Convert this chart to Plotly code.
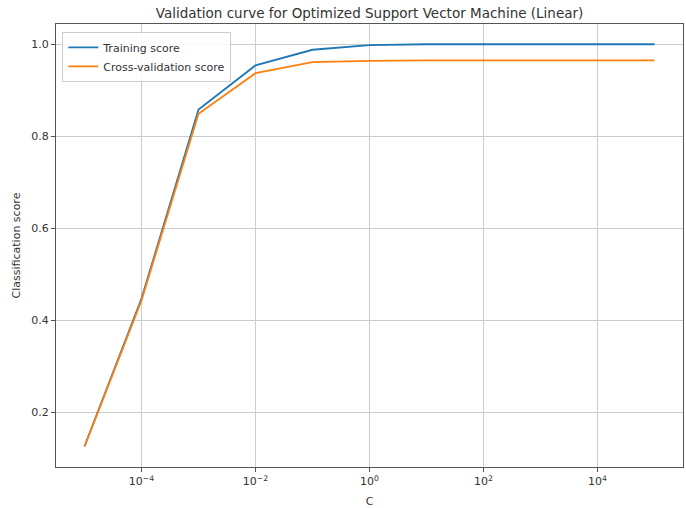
import plotly.graph_objects as go

# Regularisation strengths evaluated (log-spaced)
c_values = [1e-5, 1e-4, 1e-3, 1e-2, 1e-1, 1e0, 1e1, 1e2, 1e3, 1e4, 1e5]

# Mean scores per C
train_scores = [0.126, 0.447, 0.858, 0.954, 0.988, 0.998, 1.0, 1.0, 1.0, 1.0, 1.0]
cv_scores = [0.125, 0.443, 0.849, 0.937, 0.961, 0.964, 0.965, 0.965, 0.965, 0.965, 0.965]

x_tick_vals = [1e-4, 1e-2, 1e0, 1e2, 1e4]
x_tick_text = ["10<sup>−4</sup>", "10<sup>−2</sup>", "10<sup>0</sup>", "10<sup>2</sup>", "10<sup>4</sup>"]
y_tick_vals = [0.2, 0.4, 0.6, 0.8, 1.0]
y_tick_text = ["0.2", "0.4", "0.6", "0.8", "1.0"]

text_color = "#333333"
font_family = "DejaVu Sans"

fig = go.Figure()
fig.add_trace(go.Scatter(
    x=c_values, y=train_scores, mode="lines", name="Training score",
    line=dict(color="#1f77b4", width=1.8),
))
fig.add_trace(go.Scatter(
    x=c_values, y=cv_scores, mode="lines", name="Cross-validation score",
    line=dict(color="#ff7f0e", width=1.8),
))

axis_common = dict(
    showline=True, mirror=True, linecolor="#555555", linewidth=1,
    showgrid=True, gridcolor="#cccccc", gridwidth=1,
    ticks="outside", ticklen=4, tickcolor="#555555", tickwidth=1,
    tickfont=dict(family=font_family, size=11, color=text_color),
    zeroline=False,
)

fig.update_layout(
    width=686, height=508,
    margin=dict(l=56, r=3, t=24, b=41),
    paper_bgcolor="white", plot_bgcolor="white",
    title=dict(
        text="Validation curve for Optimized Support Vector Machine (Linear)",
        x=(56 + 627 / 2) / 686, xanchor="center", y=1 - 13 / 508, yanchor="middle",
        font=dict(family=font_family, size=13.5, color=text_color),
    ),
    xaxis=dict(
        type="log", range=[-5.5, 5.5],
        tickvals=x_tick_vals, ticktext=x_tick_text,
        title=dict(text="C", font=dict(family=font_family, size=11, color=text_color), standoff=10),
        **axis_common,
    ),
    yaxis=dict(
        range=[0.081, 1.044],
        tickvals=y_tick_vals, ticktext=y_tick_text,
        title=dict(text="Classification score", font=dict(family=font_family, size=11, color=text_color), standoff=8),
        **axis_common,
    ),
    legend=dict(
        x=0.01, y=0.982, xanchor="left", yanchor="top",
        bgcolor="rgba(255,255,255,0.85)", bordercolor="#cccccc", borderwidth=1,
        font=dict(family=font_family, size=11, color=text_color),
        itemwidth=30, tracegroupgap=0,
    ),
    showlegend=True,
)

fig.write_html("out.html")
